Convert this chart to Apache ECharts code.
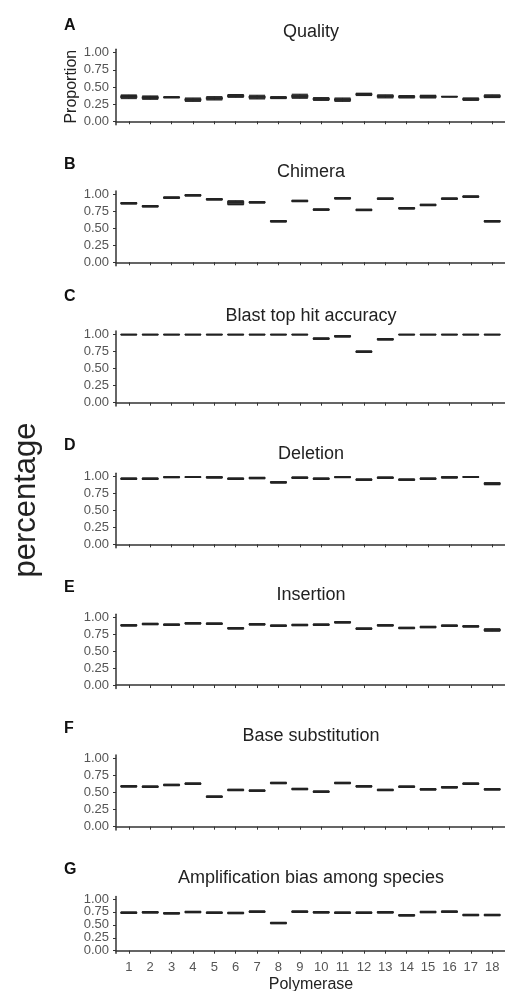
<!DOCTYPE html>
<html>
<head>
<meta charset="utf-8">
<script src="https://cdn.jsdelivr.net/npm/echarts@6/dist/echarts.min.js"></script>
<style>
  html, body { margin: 0; padding: 0; background: #fff; }
  #chart { width: 505px; height: 991px; }
</style>
</head>
<body>
<div id="chart"></div>
<script>
// x positions / tick labels
var polymerase = [1, 2, 3, 4, 5, 6, 7, 8, 9, 10, 11, 12, 13, 14, 15, 16, 17, 18];
var yTicks = [0, 0.25, 0.5, 0.75, 1];
var panelLetters = ['A', 'B', 'C', 'D', 'E', 'F', 'G'];
var panelTitles = ['Quality', 'Chimera', 'Blast top hit accuracy', 'Deletion', 'Insertion',
    'Base substitution', 'Amplification bias among species'];

// [min, Q1, median, Q3, max] per polymerase
var quality = [
    [0.33, 0.34, 0.36, 0.375, 0.385], [0.32, 0.33, 0.345, 0.36, 0.37], [0.34, 0.345, 0.35, 0.355, 0.36],
    [0.29, 0.30, 0.315, 0.33, 0.34], [0.31, 0.32, 0.335, 0.35, 0.36], [0.35, 0.355, 0.37, 0.385, 0.39],
    [0.325, 0.335, 0.355, 0.37, 0.38], [0.33, 0.335, 0.345, 0.355, 0.36], [0.335, 0.345, 0.365, 0.385, 0.395],
    [0.305, 0.31, 0.325, 0.34, 0.345], [0.29, 0.30, 0.315, 0.33, 0.34], [0.375, 0.38, 0.393, 0.405, 0.41],
    [0.34, 0.35, 0.364, 0.38, 0.385], [0.34, 0.345, 0.359, 0.37, 0.375], [0.34, 0.345, 0.359, 0.375, 0.38],
    [0.352, 0.355, 0.359, 0.362, 0.365], [0.305, 0.31, 0.325, 0.335, 0.34], [0.345, 0.35, 0.364, 0.38, 0.385]
];
var chimera = [
    [0.858, 0.858, 0.868, 0.878, 0.878], [0.814, 0.814, 0.824, 0.834, 0.834], [0.941, 0.941, 0.951, 0.961, 0.961],
    [0.975, 0.975, 0.985, 0.995, 0.995], [0.916, 0.916, 0.926, 0.936, 0.936], [0.845, 0.85, 0.877, 0.9, 0.905],
    [0.872, 0.872, 0.882, 0.892, 0.892], [0.593, 0.593, 0.603, 0.613, 0.613], [0.892, 0.892, 0.902, 0.912, 0.912],
    [0.765, 0.765, 0.775, 0.785, 0.785], [0.931, 0.931, 0.941, 0.951, 0.951], [0.76, 0.76, 0.77, 0.78, 0.78],
    [0.926, 0.926, 0.936, 0.946, 0.946], [0.784, 0.784, 0.794, 0.804, 0.804], [0.833, 0.833, 0.843, 0.853, 0.853],
    [0.926, 0.926, 0.936, 0.946, 0.946], [0.956, 0.956, 0.966, 0.976, 0.976], [0.593, 0.593, 0.603, 0.613, 0.613]
];
var blastTopHit = [
    [0.99, 0.99, 1, 1, 1], [0.99, 0.99, 1, 1, 1], [0.99, 0.99, 1, 1, 1],
    [0.99, 0.99, 1, 1, 1], [0.99, 0.99, 1, 1, 1], [0.99, 0.99, 1, 1, 1],
    [0.99, 0.99, 1, 1, 1], [0.99, 0.99, 1, 1, 1], [0.99, 0.99, 1, 1, 1],
    [0.927, 0.927, 0.937, 0.947, 0.947], [0.961, 0.961, 0.971, 0.981, 0.981], [0.736, 0.736, 0.746, 0.756, 0.756],
    [0.917, 0.917, 0.927, 0.937, 0.937], [0.99, 0.99, 1, 1, 1], [0.99, 0.99, 1, 1, 1],
    [0.99, 0.99, 1, 1, 1], [0.99, 0.99, 1, 1, 1], [0.99, 0.99, 1, 1, 1]
];
var deletion = [
    [0.96, 0.96, 0.97, 0.98, 0.98], [0.96, 0.96, 0.97, 0.98, 0.98], [0.985, 0.985, 0.995, 1, 1],
    [0.988, 0.988, 0.998, 1, 1], [0.98, 0.98, 0.99, 1, 1], [0.96, 0.96, 0.97, 0.98, 0.98],
    [0.97, 0.97, 0.98, 0.99, 0.99], [0.906, 0.906, 0.916, 0.926, 0.926], [0.975, 0.975, 0.985, 0.995, 0.995],
    [0.96, 0.96, 0.97, 0.98, 0.98], [0.986, 0.986, 0.996, 1, 1], [0.946, 0.946, 0.956, 0.966, 0.966],
    [0.975, 0.975, 0.985, 0.995, 0.995], [0.946, 0.946, 0.956, 0.966, 0.966], [0.96, 0.96, 0.97, 0.98, 0.98],
    [0.98, 0.98, 0.99, 1, 1], [0.99, 0.99, 1, 1, 1], [0.88, 0.885, 0.897, 0.91, 0.91]
];
var insertion = [
    [0.876, 0.876, 0.886, 0.896, 0.896], [0.896, 0.896, 0.906, 0.916, 0.916], [0.886, 0.886, 0.896, 0.906, 0.906],
    [0.906, 0.906, 0.916, 0.926, 0.926], [0.901, 0.901, 0.911, 0.921, 0.921], [0.832, 0.832, 0.842, 0.852, 0.852],
    [0.891, 0.891, 0.901, 0.911, 0.911], [0.871, 0.871, 0.881, 0.891, 0.891], [0.881, 0.881, 0.891, 0.901, 0.901],
    [0.886, 0.886, 0.896, 0.906, 0.906], [0.921, 0.921, 0.931, 0.941, 0.941], [0.827, 0.827, 0.837, 0.847, 0.847],
    [0.876, 0.876, 0.886, 0.896, 0.896], [0.837, 0.837, 0.847, 0.857, 0.857], [0.851, 0.851, 0.861, 0.871, 0.871],
    [0.871, 0.871, 0.881, 0.891, 0.891], [0.861, 0.861, 0.871, 0.881, 0.881], [0.8, 0.802, 0.817, 0.832, 0.835]
];
var substitution = [
    [0.58, 0.58, 0.59, 0.6, 0.6], [0.575, 0.575, 0.585, 0.595, 0.595], [0.6, 0.6, 0.61, 0.62, 0.62],
    [0.619, 0.619, 0.629, 0.639, 0.639], [0.429, 0.429, 0.439, 0.449, 0.449], [0.527, 0.527, 0.537, 0.547, 0.547],
    [0.517, 0.517, 0.527, 0.537, 0.537], [0.629, 0.629, 0.639, 0.649, 0.649], [0.541, 0.541, 0.551, 0.561, 0.561],
    [0.502, 0.502, 0.512, 0.522, 0.522], [0.629, 0.629, 0.639, 0.649, 0.649], [0.58, 0.58, 0.59, 0.6, 0.6],
    [0.527, 0.527, 0.537, 0.547, 0.547], [0.575, 0.575, 0.585, 0.595, 0.595], [0.536, 0.536, 0.546, 0.556, 0.556],
    [0.566, 0.566, 0.576, 0.586, 0.586], [0.619, 0.619, 0.629, 0.639, 0.639], [0.536, 0.536, 0.546, 0.556, 0.556]
];
var amplification = [
    [0.722, 0.722, 0.735, 0.748, 0.748], [0.729, 0.729, 0.742, 0.755, 0.755], [0.71, 0.71, 0.723, 0.736, 0.736],
    [0.735, 0.735, 0.748, 0.761, 0.761], [0.722, 0.722, 0.735, 0.748, 0.748], [0.716, 0.716, 0.729, 0.742, 0.742],
    [0.742, 0.742, 0.755, 0.768, 0.768], [0.522, 0.522, 0.535, 0.548, 0.548], [0.742, 0.742, 0.755, 0.768, 0.768],
    [0.729, 0.729, 0.742, 0.755, 0.755], [0.722, 0.722, 0.735, 0.748, 0.748], [0.722, 0.722, 0.735, 0.748, 0.748],
    [0.729, 0.729, 0.742, 0.755, 0.755], [0.671, 0.671, 0.684, 0.697, 0.697], [0.735, 0.735, 0.748, 0.761, 0.761],
    [0.742, 0.742, 0.755, 0.768, 0.768], [0.677, 0.677, 0.69, 0.703, 0.703], [0.677, 0.677, 0.69, 0.703, 0.703]
];
var panelData = [quality, chimera, blastTopHit, deletion, insertion, substitution, amplification];

// layout of the 7 panels (px)
var gridTops = [49.3, 190.9, 330.9, 473.3, 614.3, 754.9, 896.4];
var gridHeights = [75.4, 74.8, 75.2, 74.4, 74.1, 75.2, 56.9];
var titleY = [32, 172.3, 316, 454, 595, 736, 878.3];
var letterY = [25.5, 165, 297, 445.8, 588, 729, 869.7];

var FONT = '"Liberation Sans", Arial, sans-serif';
var myChart = echarts.init(document.getElementById('chart'), null, { renderer: 'canvas' });

var grids = [], xAxes = [], yAxes = [], series = [], graphics = [];
panelData.forEach(function (rows, i) {
    var last = i === panelData.length - 1;
    grids.push({ left: 116, right: -1.6, top: gridTops[i], height: gridHeights[i] });
    xAxes.push({
        type: 'value', gridIndex: i, min: 0.4, max: 18.6,
        splitLine: { show: false },
        axisLine: { lineStyle: { color: '#333', width: 1.5 } },
        axisTick: { customValues: polymerase, length: 3, lineStyle: { color: '#333', width: 1 } },
        axisLabel: {
            show: last, customValues: polymerase, margin: 8,
            color: '#555', fontSize: 13, fontFamily: FONT
        }
    });
    yAxes.push({
        type: 'value', gridIndex: i, min: -0.05, max: 1.05,
        splitLine: { show: false },
        axisLine: { show: true, lineStyle: { color: '#333', width: 1.5 } },
        axisTick: { show: true, customValues: yTicks, length: 3, lineStyle: { color: '#333', width: 1 } },
        axisLabel: {
            customValues: yTicks, margin: 7, color: '#555', fontSize: 13, fontFamily: FONT,
            formatter: function (v) { return v.toFixed(2); }
        }
    });
    series.push({
        type: 'boxplot', xAxisIndex: i, yAxisIndex: i,
        boxWidth: [16, 16],
        itemStyle: { color: '#3a3a3a', borderColor: '#222', borderWidth: 1 },
        data: rows.map(function (r, k) { return [polymerase[k]].concat(r); })
    });
    graphics.push({
        type: 'text', x: 311, y: titleY[i],
        style: { text: panelTitles[i], textAlign: 'center', textVerticalAlign: 'middle',
            font: '18px ' + FONT, fill: '#222' }
    });
    graphics.push({
        type: 'text', x: 64, y: letterY[i],
        style: { text: panelLetters[i], textAlign: 'left', textVerticalAlign: 'middle',
            font: 'bold 16px ' + FONT, fill: '#111' }
    });
});

graphics.push({
    type: 'text', x: 71.5, y: 86.7, rotation: Math.PI / 2,
    style: { text: 'Proportion', textAlign: 'center', textVerticalAlign: 'middle',
        font: '16px ' + FONT, fill: '#222' }
});
graphics.push({
    type: 'text', x: 311, y: 985,
    style: { text: 'Polymerase', textAlign: 'center', textVerticalAlign: 'middle',
        font: '16px ' + FONT, fill: '#222' }
});
graphics.push({
    type: 'text', x: 26.5, y: 500, rotation: Math.PI / 2,
    style: { text: 'percentage', textAlign: 'center', textVerticalAlign: 'middle',
        font: '31px ' + FONT, fill: '#222' }
});

var option = {
    animation: false,
    backgroundColor: '#fff',
    grid: grids,
    xAxis: xAxes,
    yAxis: yAxes,
    series: series,
    graphic: graphics
};
myChart.setOption(option);
</script>
</body>
</html>
